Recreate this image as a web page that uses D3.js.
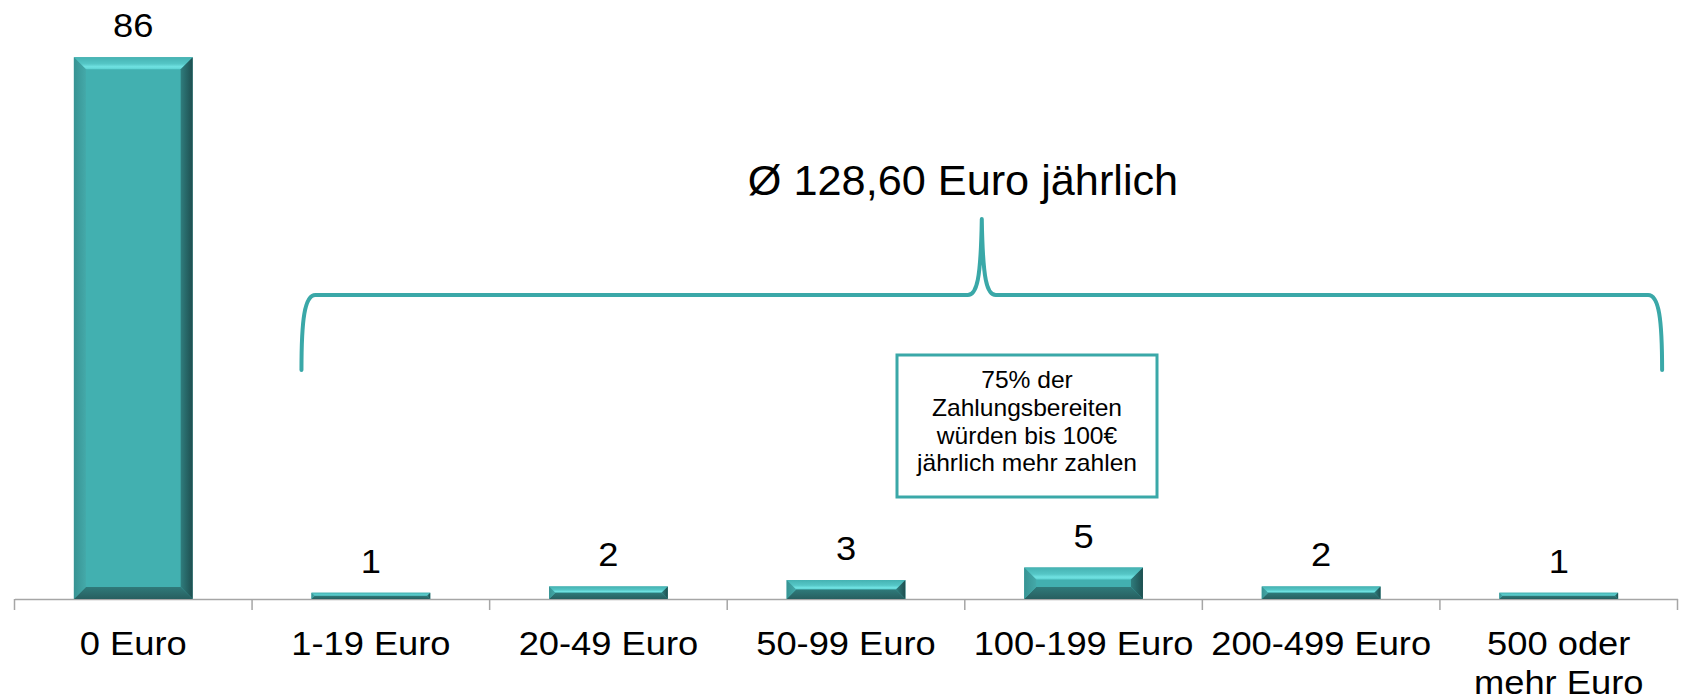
<!DOCTYPE html>
<html lang="de">
<head>
<meta charset="utf-8">
<script src="https://cdn.jsdelivr.net/npm/d3@7"></script>
<style>
  html, body { margin: 0; padding: 0; background: #ffffff; }
  svg { display: block; font-family: Arial, "Liberation Sans", sans-serif; }
</style>
</head>
<body>
<svg id="chart" width="1683" height="700"></svg>
<script>
// Willingness to pay more per year, share of respondents in percent
const categories = ["0 Euro", "1-19 Euro", "20-49 Euro", "50-99 Euro", "100-199 Euro", "200-499 Euro", "500 oder mehr Euro"];
const values = [86, 1, 2, 3, 5, 2, 1];
const braceLabel = "Ø 128,60 Euro jährlich";
const noteLines = ["75% der", "Zahlungsbereiten", "würden bis 100€", "jährlich mehr zahlen"];
const yDomain = [0, 90];

const axisY = 599;
const teal = "#3aa8a8";
const labelStretch = 1.1;   // wide presentation lettering
const wrapWidth = 228;

const svg = d3.select("#chart");
const defs = svg.append("defs");

const x = d3.scaleBand()
  .domain(categories)
  .range([14.5, 1677.5])
  .paddingInner(0.5)
  .paddingOuter(0.25);

const y = d3.scaleLinear()
  .domain(yDomain)
  .range([axisY, axisY - 567]);

// Bevel gradients
function grad(id, x2, y2, stops) {
  const g = defs.append("linearGradient").attr("id", id)
    .attr("x1", 0).attr("y1", 0).attr("x2", x2).attr("y2", y2);
  stops.forEach(([o, c]) => g.append("stop").attr("offset", o).attr("stop-color", c));
}
grad("bevTop", 0, 1, [[0, "#45b2b2"], [0.55, "#55c6c6"], [0.8, "#70e2e2"], [1, "#5cd0d0"]]);
grad("bevLeft", 1, 0, [[0, "#379393"], [1, "#44a9a9"]]);
grad("bevRight", 1, 0, [[0, "#2f7d7d"], [1, "#1e4e4f"]]);
grad("bevBottom", 0, 1, [[0, "#2f7a7a"], [1, "#275f60"]]);

// Axis line and labels
const axisG = svg.append("g")
  .attr("transform", `translate(0,${axisY})`)
  .call(d3.axisBottom(x).tickSize(0).tickSizeOuter(0).tickPadding(33));
axisG.select(".domain").attr("stroke", "#a6a6a6").attr("stroke-width", 1.5);
axisG.selectAll(".tick text")
  .attr("font-size", 33)
  .attr("fill", "#000")
  .attr("font-family", "Arial, 'Liberation Sans', sans-serif");

// Wrap category labels that do not fit in one line
axisG.selectAll(".tick text").each(function () {
  const t = d3.select(this);
  const words = t.text().split(" ");
  const lines = [];
  let line = [];
  t.text(null);
  const probe = t.append("tspan");
  words.forEach(w => {
    line.push(w);
    probe.text(line.join(" "));
    if (probe.node().getComputedTextLength() * labelStretch > wrapWidth && line.length > 1) {
      line.pop();
      lines.push(line.join(" "));
      line = [w];
    }
  });
  lines.push(line.join(" "));
  probe.remove();
  lines.forEach((l, i) => {
    t.append("tspan").attr("x", 0).attr("dy", i === 0 ? "0.71em" : "1.17em").text(l);
  });
  t.attr("dy", null);
  t.attr("transform", `scale(${labelStretch},1)`);
});

// Tick marks at category boundaries
const step = x.step();
const r0 = x.range()[0];
svg.append("g").selectAll("line")
  .data(d3.range(categories.length + 1))
  .join("line")
  .attr("x1", i => r0 + i * step)
  .attr("x2", i => r0 + i * step)
  .attr("y1", axisY)
  .attr("y2", axisY + 11)
  .attr("stroke", "#a6a6a6")
  .attr("stroke-width", 1.5);

// Bevelled bars
const bars = svg.append("g").selectAll("g")
  .data(categories.map((c, i) => ({ c, v: values[i] })))
  .join("g");

bars.each(function (d) {
  const g = d3.select(this);
  const x0 = x(d.c), x1 = x0 + x.bandwidth();
  const y0 = y(d.v), y1 = y(0);
  const b = Math.min(12, (y1 - y0) / 2, (x1 - x0) / 2);
  const poly = pts => pts.map(p => p.join(",")).join(" ");
  g.append("rect")
    .attr("x", x0).attr("y", y0)
    .attr("width", x1 - x0).attr("height", y1 - y0)
    .attr("fill", "#42b0b0");
  g.append("polygon").attr("fill", "url(#bevTop)")
    .attr("points", poly([[x0, y0], [x1, y0], [x1 - b, y0 + b], [x0 + b, y0 + b]]));
  g.append("polygon").attr("fill", "url(#bevBottom)")
    .attr("points", poly([[x0, y1], [x1, y1], [x1 - b, y1 - b], [x0 + b, y1 - b]]));
  g.append("polygon").attr("fill", "url(#bevLeft)")
    .attr("points", poly([[x0, y0], [x0 + b, y0 + b], [x0 + b, y1 - b], [x0, y1]]));
  g.append("polygon").attr("fill", "url(#bevRight)")
    .attr("points", poly([[x1, y0], [x1 - b, y0 + b], [x1 - b, y1 - b], [x1, y1]]));
});

// Value labels
svg.append("g").selectAll("g")
  .data(categories.map((c, i) => ({ c, v: values[i] })))
  .join("g")
  .attr("transform", d => `translate(${x(d.c) + x.bandwidth() / 2},${y(d.v) - 20}) scale(${labelStretch},1)`)
  .append("text")
  .attr("text-anchor", "middle")
  .attr("font-size", 33)
  .attr("fill", "#000")
  .text(d => d.v);

// Curly brace spanning the paying respondents
const bl = x(categories[1]) - 10;
const br = x(categories[categories.length - 1]) + x.bandwidth() + 44;
const bm = (bl + br) / 2;
const bTop = 219, bMid = 295, bEnd = 370;
const bracePath = d3.path();
bracePath.moveTo(bl, bEnd);
bracePath.bezierCurveTo(bl, bMid + 25, bl + 3, bMid, bl + 14, bMid);
bracePath.lineTo(bm - 14, bMid);
bracePath.bezierCurveTo(bm - 5, bMid, bm - 1, bMid - 15, bm, bTop);
bracePath.bezierCurveTo(bm + 1, bMid - 15, bm + 5, bMid, bm + 14, bMid);
bracePath.lineTo(br - 14, bMid);
bracePath.bezierCurveTo(br - 3, bMid, br, bMid + 25, br, bEnd);
svg.append("path")
  .attr("d", bracePath.toString())
  .attr("fill", "none")
  .attr("stroke", teal)
  .attr("stroke-width", 4)
  .attr("stroke-linecap", "round")
  .attr("stroke-linejoin", "round");

svg.append("g")
  .attr("transform", "translate(963,195) scale(1.03,1)")
  .append("text")
  .attr("text-anchor", "middle")
  .attr("font-size", 42)
  .attr("fill", "#000")
  .text(braceLabel);

// Note box
const note = svg.append("g");
note.append("rect")
  .attr("x", 897).attr("y", 355)
  .attr("width", 260).attr("height", 142)
  .attr("fill", "#fff")
  .attr("stroke", teal)
  .attr("stroke-width", 3);
note.append("g")
  .attr("transform", "translate(1027,0) scale(1.07,1)")
  .append("text")
  .attr("text-anchor", "middle")
  .attr("font-size", 23)
  .attr("fill", "#000")
  .selectAll("tspan")
  .data(noteLines)
  .join("tspan")
  .attr("x", 0)
  .attr("y", (d, i) => 388 + i * 27.8)
  .text(d => d);
</script>
</body>
</html>
